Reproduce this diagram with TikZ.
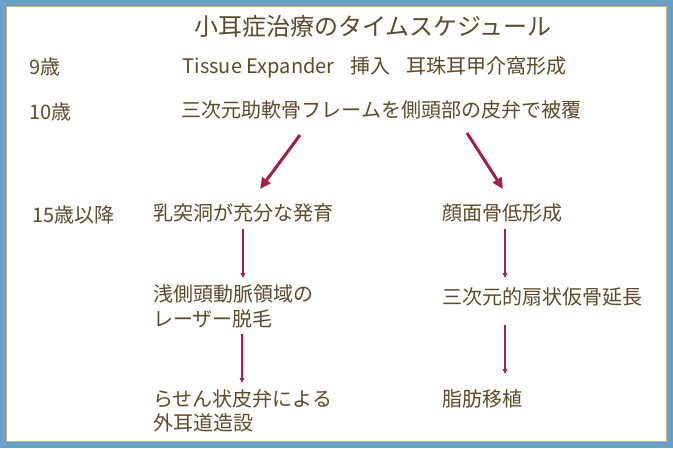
\documentclass[tikz,border=0pt]{standalone}
\usepackage{fontspec}
\setmainfont{Noto Sans CJK JP}
\usetikzlibrary{arrows.meta}
\definecolor{framblue}{RGB}{104,160,198}
\definecolor{framtan}{RGB}{200,178,128}
\definecolor{txtbrown}{RGB}{92,74,44}
\definecolor{arrred}{RGB}{165,30,75}
\tikzset{
  lbl/.style={anchor=west,inner sep=0pt,text=txtbrown,font=\fontsize{20}{24.5}\selectfont,align=left},
  ttl/.style={inner sep=0pt,text=txtbrown,font=\fontsize{24}{28}\selectfont},
  bigarr/.style={draw=arrred,line width=3pt,-{Triangle[length=11pt,width=10pt]},fill=arrred},
  smallarr/.style={draw=arrred,line width=1.4pt,-{Triangle[length=5pt,width=4.5pt]},fill=arrred}
}
\begin{document}
\begin{tikzpicture}[x=1pt,y=-1pt]
\useasboundingbox (0,0) rectangle (673,448);
\fill[framblue] (0,0) rectangle (673,448);
\fill[framtan] (5.6,5.6) rectangle (667,442);
\fill[white] (6.8,6.8) rectangle (665.8,440.8);

\node[ttl] (title) at (373,26) {小耳症治療のタイムスケジュール};

\node[lbl] (age9) at (29.5,67) {9歳};
\node[lbl] (step1) at (182.5,67) {Tissue Expander\hspace{16pt}挿入\hspace{16pt}耳珠耳甲介窩形成};

\node[lbl] (age10) at (29.5,112) {10歳};
\node[lbl] (step2) at (181.5,110) {三次元助軟骨フレームを側頭部の皮弁で被覆};

\node[lbl] (age15) at (32.5,215) {15歳以降};
\node[lbl] (l1) at (153,213) {乳突洞が充分な発育};
\node[lbl] (r1) at (442,213) {顔面骨低形成};

\node[lbl] (l2) at (153,306.5) {浅側頭動脈領域の\\レーザー脱毛};
\node[lbl] (r2) at (442,297) {三次元的扇状仮骨延長};

\node[lbl] (l3) at (153,411) {らせん状皮弁による\\外耳道造設};
\node[lbl] (r3) at (442,399) {脂肪移植};

\coordinate (a1s) at (300,135);
\coordinate (a1e) at (260,189);
\coordinate (a2s) at (467,133);
\coordinate (a2e) at (503,189);
\coordinate (l1s) at (243,229);
\coordinate (l1e) at (243,278);
\coordinate (r1s) at (505,229);
\coordinate (r1e) at (505,278);
\coordinate (l2s) at (242,334);
\coordinate (l2e) at (242,383);
\coordinate (r2s) at (505,325);
\coordinate (r2e) at (505,374);

\draw[bigarr] (a1s) -- (a1e);
\draw[bigarr] (a2s) -- (a2e);
\draw[smallarr] (l1s) -- (l1e);
\draw[smallarr] (r1s) -- (r1e);
\draw[smallarr] (l2s) -- (l2e);
\draw[smallarr] (r2s) -- (r2e);
\end{tikzpicture}
\end{document}
